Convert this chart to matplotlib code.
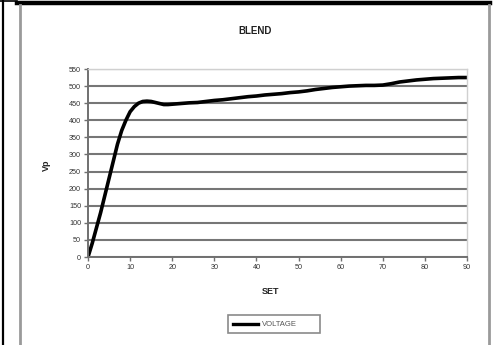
import matplotlib
matplotlib.use("Agg")
import matplotlib.pyplot as plt
from matplotlib.lines import Line2D
from matplotlib.patches import Rectangle

plt.rcParams['font.family'] = ['Liberation Sans', 'DejaVu Sans']

set_points = [0, 1, 2, 3, 4, 5, 6, 7, 8, 9, 10, 11, 12, 13, 14, 15, 16, 17, 18, 19,
              20, 22, 24, 26, 28, 30, 32, 34, 36, 38, 40, 42, 44, 46, 48, 50, 52, 54,
              56, 58, 60, 62, 64, 66, 68, 70, 72, 74, 76, 78, 80, 82, 84, 86, 88, 90]
voltage = [0, 40, 85, 130, 180, 230, 280, 330, 370, 400, 425, 440, 450, 455, 456, 455,
           452, 449, 446, 446, 447, 449, 451, 452, 455, 458, 460, 463, 466, 469, 471,
           474, 476, 478, 481, 483, 486, 490, 493, 496, 498, 500, 501, 502, 502, 503,
           507, 512, 515, 518, 520, 522, 523, 524, 525, 525]
x_ticks = list(range(0, 91, 10))
y_ticks = list(range(0, 551, 50))

W, H = 497, 345
fig = plt.figure(figsize=(W / 100, H / 100), dpi=100)
fig.patch.set_facecolor('white')

# page / table cell frame
fig.add_artist(Line2D([3 / W, 3 / W], [0, 1], color='black', lw=1.6))
fig.add_artist(Line2D([0, 17 / W], [1 - 0.5 / H, 1 - 0.5 / H], color='black', lw=1.2))
fig.add_artist(Line2D([17 / W, 490 / W], [1 - 2.5 / H, 1 - 2.5 / H], color='black', lw=3.2))
# chart area border
fig.add_artist(Line2D([20 / W, 20 / W], [0, 1 - 5 / H], color='#9a9a9a', lw=2.0))
fig.add_artist(Line2D([489 / W, 489 / W], [0, 1 - 5 / H], color='#9a9a9a', lw=2.0))

left, right, top, bottom = 88, 467, 69, 257
ax = fig.add_axes([left / W, 1 - bottom / H, (right - left) / W, (bottom - top) / H])
ax.set_xlim(0, 90)
ax.set_ylim(0, 550)
ax.set_xticks(x_ticks)
ax.set_yticks(y_ticks)
ax.grid(axis='y', color='#767676', lw=1.5)
ax.set_axisbelow(True)
for side in ('left', 'bottom'):
    ax.spines[side].set_color('#707070')
    ax.spines[side].set_linewidth(1.4)
for side in ('top', 'right'):
    ax.spines[side].set_color('#d0d0d0')
    ax.spines[side].set_linewidth(1.0)
ax.tick_params(axis='both', direction='out', length=3, width=1, color='#707070',
               labelsize=5.2, labelcolor='#333333', pad=2)

ax.plot(set_points, voltage, color='black', lw=2.6, solid_capstyle='round')

fig.text(255 / W, 1 - 31 / H, 'BLEND', ha='center', va='center',
         fontsize=7, fontweight='bold', color='#222222')
fig.text(46 / W, 1 - 165 / H, 'Vp', ha='center', va='center', rotation=90,
         fontsize=6.5, fontweight='bold', color='#222222')
fig.text(271 / W, 1 - 292 / H, 'SET', ha='center', va='center',
         fontsize=6.5, fontweight='bold', color='#222222')

# legend box
fig.add_artist(Rectangle((228 / W, 1 - 333 / H), 92 / W, 18 / H, transform=fig.transFigure,
                         facecolor='white', edgecolor='#8a8a8a', lw=1.2))
fig.add_artist(Line2D([233 / W, 258 / W], [1 - 324 / H, 1 - 324 / H], color='black', lw=2.4))
fig.text(262 / W, 1 - 324 / H, 'VOLTAGE', ha='left', va='center', fontsize=5.5,
         color='#555555')

fig.savefig('out.png', dpi=100)
